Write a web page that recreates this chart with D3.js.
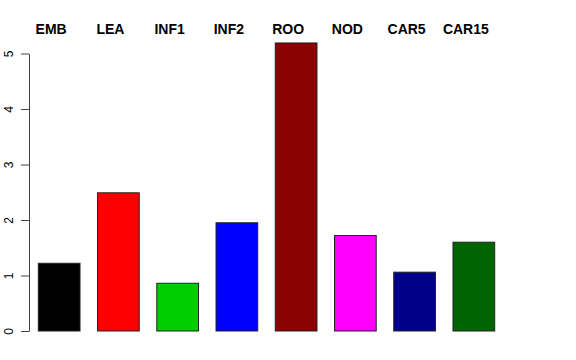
<!DOCTYPE html>
<html>
<head>
<meta charset="utf-8">
<script src="https://cdn.jsdelivr.net/npm/d3@7"></script>
<style>
  body { margin: 0; background: white; }
  svg { display: block; }
</style>
</head>
<body>
<div id="canvas"></div>
<script>
// bar chart, one bar per tissue, labels on top

const categories = ["EMB", "LEA", "INF1", "INF2", "ROO", "NOD", "CAR5", "CAR15"];
const values = [1.22, 2.49, 0.86, 1.95, 5.19, 1.72, 1.06, 1.60];
const colors = ["#000000", "#FF0000", "#00CD00", "#0000FF", "#8B0000", "#FF00FF", "#00008B", "#006400"];
const yTicks = [0, 1, 2, 3, 4, 5];

const width = 576;
const height = 360;

const x = d3.scaleBand()
    .domain(categories)
    .range([38.3, 494.7])
    .paddingInner(0.296)
    .paddingOuter(0);

const y = d3.scaleLinear()
    .domain([0, 5])
    .range([331, 53.5]);

const svg = d3.select("#canvas")
    .append("svg")
    .attr("width", width)
    .attr("height", height)
    .attr("viewBox", [0, 0, width, height])
    .style("font-family", "'Liberation Sans', Arial, sans-serif");

// bars
svg.append("g")
    .selectAll("rect")
    .data(categories)
    .join("rect")
        .attr("x", d => x(d))
        .attr("y", (d, i) => y(values[i]))
        .attr("width", x.bandwidth())
        .attr("height", (d, i) => y(0) - y(values[i]))
        .attr("fill", (d, i) => colors[i])
        .attr("stroke", "#222")
        .attr("stroke-width", 1);

// y axis
svg.append("g")
    .attr("transform", "translate(29,0)")
    .call(d3.axisLeft(y).tickValues(yTicks).tickSize(8).tickSizeOuter(0).tickFormat(d3.format("d")))
    .call(g => g.select(".domain").attr("stroke", "#444"))
    .call(g => g.selectAll(".tick line").attr("stroke", "#444"))
    .call(g => g.selectAll(".tick text")
        .attr("transform", "rotate(-90)")
        .attr("x", 0)
        .attr("y", -16)
        .attr("dy", 0)
        .attr("text-anchor", "middle")
        .attr("font-size", 12)
        .attr("font-family", "'Liberation Sans', Arial, sans-serif")
        .attr("fill", "black"));

// category labels on top
svg.append("g")
    .selectAll("text")
    .data(categories)
    .join("text")
        .attr("x", d => x(d) + x.bandwidth() / 2 - 8)
        .attr("y", 34.3)
        .attr("text-anchor", "middle")
        .attr("font-size", 14)
        .attr("font-weight", "bold")
        .text(d => d);
</script>
</body>
</html>
